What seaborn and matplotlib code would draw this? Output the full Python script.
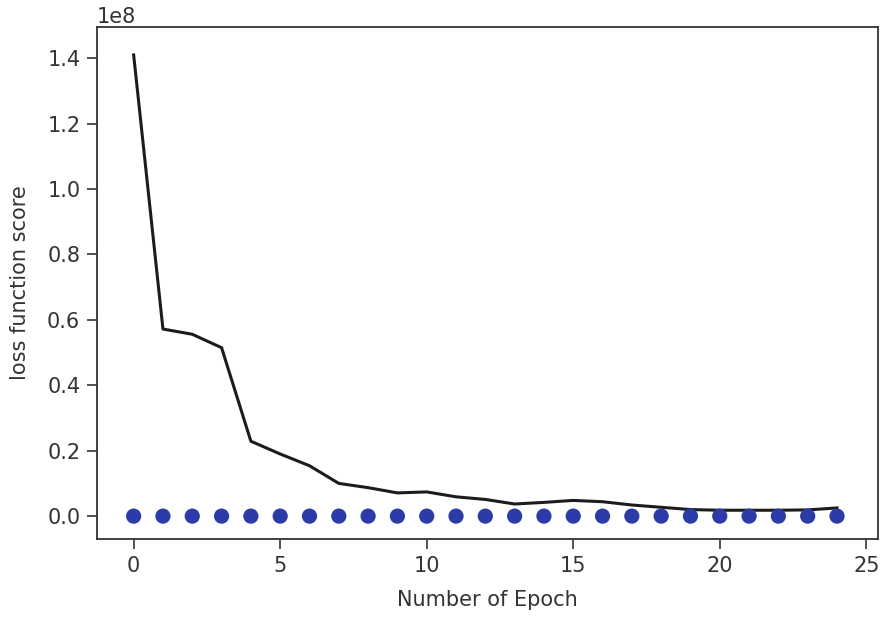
import matplotlib
matplotlib.use("Agg")
import matplotlib.pyplot as plt
import seaborn as sns
import pandas as pd

epochs = list(range(25))
loss = [1.41e8, 0.572e8, 0.556e8, 0.515e8, 0.229e8, 0.19e8, 0.154e8, 0.100e8,
        0.087e8, 0.071e8, 0.074e8, 0.059e8, 0.051e8, 0.037e8, 0.042e8, 0.048e8,
        0.044e8, 0.034e8, 0.027e8, 0.020e8, 0.018e8, 0.018e8, 0.018e8, 0.019e8,
        0.025e8]
zeros = [0.0] * 25

df = pd.DataFrame({"epoch": epochs, "loss": loss, "zero": zeros})

plt.rcParams["font.family"] = ["DejaVu Sans"]
fig = plt.figure(figsize=(8.86, 6.17), dpi=100)
ax = fig.add_axes([0.1095, 0.1264, 0.8815, 0.8296])

sns.lineplot(data=df, x="epoch", y="loss", color="#1c1c1c", linewidth=2.2, ax=ax)
sns.scatterplot(data=df, x="epoch", y="zero", color="#2b3ca8", s=120, edgecolor="none", ax=ax, zorder=3)

ax.set_xlim(-1.25, 25.4)
ax.set_ylim(-0.07e8, 1.495e8)
ax.set_xticks([0, 5, 10, 15, 20, 25])
ax.set_yticks([0, 0.2e8, 0.4e8, 0.6e8, 0.8e8, 1.0e8, 1.2e8, 1.4e8])
ax.set_xlabel("Number of Epoch", fontsize=15, color="#333333", labelpad=10)
ax.set_ylabel("loss function score", fontsize=15, color="#333333", labelpad=12)
ax.tick_params(labelsize=15, colors="#333333", length=7, width=1.2, pad=5)
ax.yaxis.get_offset_text().set_fontsize(15)
ax.yaxis.get_offset_text().set_color("#333333")
for sp in ax.spines.values():
    sp.set_color("#333333")
    sp.set_linewidth(1.3)

fig.savefig("out.png", dpi=100)
